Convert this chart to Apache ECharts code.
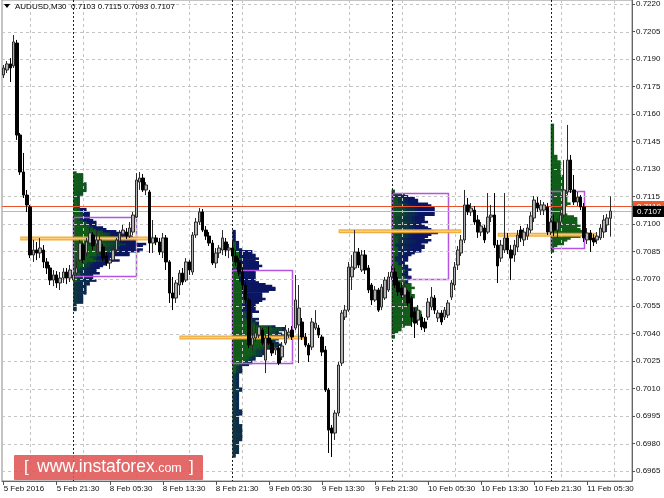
<!DOCTYPE html>
<html><head><meta charset="utf-8">
<script src="https://cdn.jsdelivr.net/npm/echarts@6/dist/echarts.min.js"></script>
<style>html,body{margin:0;padding:0;background:#fff}#c{width:664px;height:498px}</style>
</head><body><div id="c"></div>
<script>
// ---------- data ----------
const symbolName = 'AUDUSD,M30';
const slotCount = 190; // 184 bars + empty right shift
const xTickBars = [0,16,32,48,64,80,96,112,128,144,160,176];
const xTickLabels = ['5 Feb 2016','5 Feb 21:30','8 Feb 05:30','8 Feb 13:30','8 Feb 21:30','9 Feb 05:30','9 Feb 13:30','9 Feb 21:30','10 Feb 05:30','10 Feb 13:30','10 Feb 21:30','11 Feb 05:30'];
const xGridBars = [8,24,40,56,72,88,104,120,136,152,168,184];
const daySeparatorBars = [21,69,117,165];
const yTicks = [0.6965,0.6980,0.6995,0.7010,0.7025,0.7040,0.7055,0.7070,0.7085,0.7100,0.7115,0.7130,0.7145,0.7160,0.7175,0.7190,0.7205,0.7220];
const yMin = 0.69596, yMax = 0.72222;
const askPrice = 0.7110;
// candles: [open, close, low, high]
const candles = [
[0.71813,0.71851,0.71796,0.71867],[0.71840,0.71873,0.71823,0.71889],[0.71873,0.71851,0.71774,0.71905],[0.71862,0.71993,0.71851,0.72031],
[0.71987,0.71485,0.71458,0.72004],[0.71485,0.71283,0.71267,0.71496],[0.71283,0.71157,0.71141,0.71387],[0.71157,0.71103,0.71065,0.71185],
[0.71092,0.70830,0.70813,0.71103],[0.70830,0.70857,0.70792,0.70912],[0.70857,0.70841,0.70802,0.70901],[0.70841,0.70868,0.70813,0.70923],
[0.70857,0.70792,0.70759,0.70884],[0.70792,0.70759,0.70726,0.70813],[0.70759,0.70693,0.70666,0.70775],[0.70693,0.70721,0.70660,0.70748],
[0.70721,0.70677,0.70650,0.70742],[0.70677,0.70704,0.70639,0.70737],[0.70704,0.70737,0.70677,0.70759],[0.70737,0.70704,0.70671,0.70759],
[0.70704,0.70748,0.70682,0.70775],
[0.70693,0.70721,0.70682,0.70737],[0.70731,0.70759,0.70715,0.70802],[0.70802,0.70895,0.70792,0.70912],[0.70884,0.70802,0.70786,0.70895],
[0.70841,0.70901,0.70824,0.70923],[0.70895,0.70950,0.70879,0.70983],[0.70939,0.70879,0.70857,0.70955],[0.70890,0.70912,0.70841,0.70966],
[0.70846,0.70912,0.70830,0.70933],[0.70873,0.70813,0.70797,0.70890],[0.70824,0.70786,0.70770,0.70846],[0.70786,0.70802,0.70753,0.70813],
[0.70802,0.70857,0.70792,0.70868],[0.70857,0.70912,0.70841,0.70923],[0.70906,0.70950,0.70890,0.70966],[0.70944,0.70966,0.70928,0.70994],
[0.70955,0.70933,0.70917,0.70977],[0.70933,0.70977,0.70923,0.71010],[0.70955,0.71048,0.70939,0.71065],[0.71037,0.71239,0.71032,0.71277],
[0.71228,0.71250,0.71185,0.71283],[0.71250,0.71185,0.71174,0.71272],[0.71185,0.71212,0.71157,0.71228],[0.71174,0.70895,0.70841,0.71185],
[0.70895,0.70923,0.70841,0.71021],[0.70923,0.70901,0.70884,0.70939],[0.70901,0.70846,0.70830,0.70923],[0.70846,0.70923,0.70813,0.70950],
[0.70923,0.70792,0.70748,0.70939],[0.70792,0.70622,0.70568,0.70802],[0.70622,0.70595,0.70529,0.70710],[0.70595,0.70677,0.70568,0.70693],
[0.70666,0.70731,0.70611,0.70748],[0.70731,0.70682,0.70666,0.70759],[0.70693,0.70792,0.70682,0.70813],[0.70792,0.70748,0.70721,0.70802],
[0.70737,0.70939,0.70721,0.70955],[0.70939,0.71010,0.70923,0.71032],[0.71010,0.71065,0.70994,0.71086],[0.71065,0.70966,0.70955,0.71081],
[0.70966,0.70933,0.70912,0.70988],[0.70933,0.70895,0.70879,0.70955],[0.70895,0.70786,0.70775,0.70912],[0.70786,0.70841,0.70759,0.70868],
[0.70841,0.70868,0.70813,0.70884],[0.70857,0.70923,0.70830,0.70966],[0.70901,0.70857,0.70824,0.70923],[0.70857,0.70868,0.70813,0.70890],
[0.70868,0.70824,0.70802,0.70901],[0.70824,0.70792,0.70770,0.70857],[0.70792,0.70737,0.70715,0.70813],[0.70737,0.70666,0.70639,0.70759],
[0.70666,0.70584,0.70562,0.70682],[0.70584,0.70338,0.70322,0.70595],[0.70338,0.70377,0.70311,0.70442],[0.70377,0.70404,0.70355,0.70464],
[0.70393,0.70437,0.70377,0.70448],[0.70420,0.70349,0.70338,0.70431],[0.70256,0.70377,0.70185,0.70393],[0.70377,0.70349,0.70338,0.70437],
[0.70349,0.70295,0.70278,0.70366],[0.70311,0.70322,0.70284,0.70355],[0.70322,0.70240,0.70229,0.70338],[0.70273,0.70333,0.70256,0.70355],
[0.70349,0.70420,0.70338,0.70448],[0.70393,0.70409,0.70377,0.70431],[0.70420,0.70382,0.70366,0.70442],[0.70431,0.70584,0.70420,0.70721],
[0.70448,0.70540,0.70240,0.70666],[0.70464,0.70382,0.70366,0.70486],[0.70382,0.70338,0.70327,0.70404],[0.70338,0.70284,0.70246,0.70349],
[0.70327,0.70464,0.70311,0.70486],[0.70431,0.70458,0.70420,0.70529],[0.70431,0.70393,0.70377,0.70448],[0.70382,0.70300,0.70278,0.70393],
[0.70311,0.70093,0.70082,0.70333],[0.70093,0.69874,0.69749,0.70104],[0.69885,0.69858,0.69727,0.69902],[0.69858,0.69967,0.69820,0.69983],
[0.69967,0.70229,0.69951,0.70246],[0.70240,0.70513,0.70224,0.70529],[0.70491,0.70529,0.70475,0.70557],[0.70529,0.70764,0.70519,0.70792],
[0.70710,0.70764,0.70639,0.70830],[0.70759,0.70846,0.70748,0.70966],[0.70846,0.70775,0.70759,0.70868],[0.70748,0.70830,0.70737,0.70857],
[0.70830,0.70748,0.70726,0.70857],[0.70759,0.70639,0.70622,0.70775],[0.70666,0.70584,0.70557,0.70677],[0.70584,0.70639,0.70573,0.70660],
[0.70639,0.70529,0.70519,0.70650],[0.70546,0.70655,0.70529,0.70671],[0.70595,0.70693,0.70584,0.70710],[0.70639,0.70710,0.70628,0.70737],
[0.70710,0.70737,0.70693,0.70770],[0.70737,0.70666,0.70650,0.70759],[0.70682,0.70628,0.70606,0.70710],[0.70650,0.70611,0.70595,0.70677],
[0.70611,0.70655,0.70595,0.70677],[0.70628,0.70568,0.70551,0.70639],[0.70595,0.70491,0.70437,0.70606],[0.70519,0.70458,0.70377,0.70540],
[0.70475,0.70529,0.70448,0.70557],[0.70491,0.70437,0.70420,0.70508],[0.70464,0.70431,0.70409,0.70486],[0.70491,0.70573,0.70475,0.70595],
[0.70546,0.70600,0.70529,0.70655],[0.70595,0.70529,0.70508,0.70611],[0.70486,0.70513,0.70464,0.70529],[0.70513,0.70464,0.70448,0.70529],
[0.70491,0.70529,0.70475,0.70546],[0.70502,0.70568,0.70486,0.70584],[0.70600,0.70677,0.70584,0.70693],[0.70666,0.70764,0.70639,0.70792],
[0.70775,0.70857,0.70748,0.70879],[0.70841,0.70912,0.70824,0.70939],[0.70912,0.71103,0.70895,0.71185],[0.71103,0.71065,0.71048,0.71141],
[0.71065,0.71086,0.71043,0.71114],[0.71075,0.71010,0.70994,0.71097],[0.71021,0.70955,0.70923,0.71048],[0.70955,0.70988,0.70933,0.71010],
[0.70977,0.70912,0.70895,0.70994],[0.70955,0.71037,0.70944,0.71168],[0.71037,0.71048,0.71010,0.71103],[0.71048,0.70884,0.70868,0.71168],
[0.70884,0.70770,0.70677,0.70912],[0.70813,0.70884,0.70792,0.70912],[0.70857,0.70923,0.70841,0.71168],[0.70923,0.70857,0.70835,0.70950],
[0.70857,0.70813,0.70693,0.70884],[0.70830,0.70884,0.70792,0.70912],[0.70873,0.70939,0.70846,0.70966],[0.70966,0.70923,0.70901,0.70988],
[0.70912,0.70955,0.70879,0.70977],[0.70933,0.70977,0.70912,0.70999],[0.70966,0.71043,0.70950,0.71065],[0.71032,0.71130,0.71010,0.71152],
[0.71114,0.71086,0.71065,0.71146],[0.71075,0.71103,0.71048,0.71130],[0.71075,0.71103,0.71048,0.71119],[0.71092,0.70955,0.70939,0.71114],
[0.70955,0.71010,0.70939,0.71032],[0.71010,0.70966,0.70933,0.71048],[0.70966,0.71010,0.70923,0.71032],[0.71010,0.71048,0.70988,0.71075],
[0.71048,0.71185,0.71032,0.71348],[0.71174,0.71348,0.71157,0.71540],[0.71348,0.71185,0.71168,0.71376],[0.71185,0.71119,0.71103,0.71267],
[0.71119,0.71146,0.71097,0.71174],[0.71146,0.71092,0.71075,0.71157],[0.71092,0.70923,0.70901,0.71114],[0.70912,0.70950,0.70890,0.70977],
[0.70950,0.70912,0.70846,0.70966],[0.70923,0.70901,0.70879,0.70944],[0.70912,0.70933,0.70890,0.70955],[0.70923,0.70977,0.70912,0.70999],
[0.70955,0.71021,0.70923,0.71048],[0.70994,0.71032,0.70955,0.71054],[0.7103,0.7107,0.7093,0.7115]
];
// point-of-control lines: [fromBar, toBar, price]
const pocLines = [[5,45,0.7092],[53,91,0.7038],[101,138,0.7096],[149,179,0.7094]];
// value areas: [fromBar, toBar, high, low]
const valueAreas = [[21,40,0.7104,0.7072],[69,87,0.7075,0.7024],[117,134,0.7117,0.7070],[165,175,0.7118,0.7087]];
const priceStep = 0.0001;

// ---------- helpers ----------
const FONT = 'Liberation Sans, Arial, sans-serif';
function tpoColor(t) {
  const s = Math.max(0, Math.min(1, (t - 0.42) / 0.35));
  const g = [16, 92, 24], n = [10, 22, 98];
  const c = g.map((v, i) => Math.round(v + (n[i] - v) * s));
  return 'rgb(' + c.join(',') + ')';
}
// market profile rows built from candle ranges (TPO count per price level)
const profileRows = [];
daySeparatorBars.forEach((start, d) => {
  const end = d + 1 < daySeparatorBars.length ? daySeparatorBars[d + 1] : candles.length;
  let lo = Infinity, hi = -Infinity;
  for (let i = start; i < end; i++) { lo = Math.min(lo, candles[i][2]); hi = Math.max(hi, candles[i][3]); }
  const kLo = Math.ceil(lo / priceStep - 1e-6), kHi = Math.floor(hi / priceStep + 1e-6);
  for (let k = kLo; k <= kHi; k++) {
    const p = k * priceStep;
    const cols = [];
    for (let i = start; i < end; i++) {
      if (candles[i][2] <= p + 1e-9 && candles[i][3] >= p - 1e-9) cols.push(tpoColor((i - start) / 47));
    }
    if (cols.length) profileRows.push({ start, price: p, colors: cols });
  }
});
const last = candles[candles.length - 1];
const bidPrice = last[1];
const titleText = symbolName + '  ' + [last[0], last[3], last[2], last[1]].map(v => v.toFixed(4)).join(' ');

const chart = echarts.init(document.getElementById('c'), null, { renderer: 'canvas' });
const slots = Array.from({ length: slotCount }, (_, i) => i);

function hLine(color, dash) {
  return (params, api) => {
    const cs = params.coordSys;
    const y = Math.round(api.coord([0, api.value(1)])[1]) + 0.5;
    return { type: 'line', shape: { x1: cs.x, y1: y, x2: cs.x + cs.width, y2: y },
      style: { stroke: color, lineWidth: 1, lineDash: dash } };
  };
}
function vLine(bars, color, dash) {
  return (params, api) => {
    const cs = params.coordSys;
    const x = Math.round(api.coord([bars[params.dataIndex], yMin])[0]) + 0.5;
    return { type: 'line', shape: { x1: x, y1: cs.y, x2: x, y2: cs.y + cs.height },
      style: { stroke: color, lineWidth: 1, lineDash: dash } };
  };
}

chart.setOption({
  animation: false,
  backgroundColor: '#fff',
  grid: { left: 2, right: 32, top: 0, bottom: 17, show: true, borderColor: '#8a8a8a', borderWidth: 1, backgroundColor: '#fff' },
  xAxis: {
    type: 'category', data: slots, boundaryGap: true,
    axisLine: { show: true, lineStyle: { color: '#666' } },
    axisTick: { show: true, alignWithLabel: true, length: 4, interval: i => xTickBars.includes(i), lineStyle: { color: '#555' } },
    axisLabel: { interval: i => xTickBars.includes(i), formatter: (v, i) => xTickLabels[xTickBars.indexOf(i)],
      align: 'left', fontSize: 8, color: '#111', margin: 4, fontFamily: FONT },
    splitLine: { show: false }
  },
  yAxis: {
    type: 'value', position: 'right', min: yMin, max: yMax, scale: true,
    axisLine: { show: true, lineStyle: { color: '#666' } },
    axisTick: { show: true, length: 3, customValues: yTicks, lineStyle: { color: '#555' } },
    axisLabel: { customValues: yTicks, formatter: v => v.toFixed(4), color: '#111', fontSize: 8, margin: 4, fontFamily: FONT },
    splitLine: { show: false }
  },
  series: [
    { // market profile histograms
      type: 'custom', z: 1, silent: true,
      data: profileRows.map(r => [r.start, r.price]),
      renderItem: (params, api) => {
        const r = profileRows[params.dataIndex];
        const w = api.size([1, 0])[0];
        const a = api.coord([r.start, r.price + priceStep / 2]);
        const b = api.coord([r.start, r.price - priceStep / 2]);
        const n = r.colors.length;
        const x0 = a[0], x1 = a[0] + n * w;
        const stops = [];
        r.colors.forEach((c, j) => { stops.push({ offset: j / n, color: c }, { offset: (j + 1) / n, color: c }); });
        return { type: 'rect', shape: { x: x0, y: a[1] - 0.35, width: x1 - x0, height: b[1] - a[1] + 0.7 },
          style: { fill: new echarts.graphic.LinearGradient(x0, 0, x1, 0, stops, true) } };
      }
    },
    { // value area boxes
      type: 'custom', z: 2, silent: true,
      data: valueAreas.map(v => [v[0], v[2]]),
      renderItem: (params, api) => {
        const v = valueAreas[params.dataIndex];
        const a = api.coord([v[0], v[2]]), b = api.coord([v[1], v[3]]);
        return { type: 'rect', shape: { x: Math.round(a[0]) + 0.5, y: Math.round(a[1]) + 0.5, width: Math.round(b[0] - a[0]), height: Math.round(b[1] - a[1]) },
          style: { fill: 'none', stroke: '#b255e0', lineWidth: 1.5 } };
      }
    },
    { type: 'custom', z: 3, silent: true, data: yTicks.map(v => [0, v]), renderItem: hLine('#c4c4c4', [3, 3]) },
    { type: 'custom', z: 3, silent: true, data: xGridBars.map(b => [b, yMin]), renderItem: vLine(xGridBars, '#c4c4c4', [3, 3]) },
    { type: 'custom', z: 3, silent: true, data: daySeparatorBars.map(b => [b, yMin]), renderItem: vLine(daySeparatorBars, '#1e1e1e', [2, 2]) },
    { type: 'custom', z: 3, silent: true, data: [[0, bidPrice]], renderItem: hLine('#b8b8b8', null) },
    { type: 'custom', z: 3, silent: true, data: [[0, askPrice]], renderItem: hLine('#e8552c', null) },
    { // POC lines
      type: 'custom', z: 4, silent: true,
      data: pocLines.map(p => [p[0], p[2]]),
      renderItem: (params, api) => {
        const p = pocLines[params.dataIndex];
        const a = api.coord([p[0], p[2]]), b = api.coord([p[1], p[2]]);
        return { type: 'group', children: [
          { type: 'line', shape: { x1: a[0], y1: a[1], x2: b[0], y2: b[1] }, style: { stroke: '#f0a428', lineWidth: 4, opacity: 0.9 } },
          { type: 'line', shape: { x1: a[0] + 1, y1: a[1], x2: b[0] - 1, y2: b[1] }, style: { stroke: '#ffd58a', lineWidth: 1.5, opacity: 0.8 } }
        ] };
      }
    },
    {
      type: 'candlestick', z: 5, silent: true, data: candles, barWidth: 3,
      itemStyle: { color: '#b0b0b0', color0: '#000000', borderColor: '#2a2a2a', borderColor0: '#000000', borderWidth: 1 }
    },
    { // price labels on the axis
      type: 'custom', z: 6, silent: true, clip: false,
      data: [[0, askPrice], [0, bidPrice]],
      renderItem: (params, api) => {
        const cs = params.coordSys;
        const v = api.value(1);
        const y = api.coord([0, v])[1];
        const bg = params.dataIndex === 0 ? '#ef5a2a' : '#000000';
        return { type: 'group', children: [
          { type: 'rect', shape: { x: cs.x + cs.width + 1, y: Math.round(y) - 5, width: 31, height: 11 }, style: { fill: bg } },
          { type: 'text', x: cs.x + cs.width + 5, y: Math.round(y) + 0.5,
            style: { text: v.toFixed(4), fill: '#fff', font: '8px ' + FONT, textVerticalAlign: 'middle' } }
        ] };
      }
    }
  ],
  graphic: [
    { type: 'polygon', shape: { points: [[4, 4], [10, 4], [7, 8]] }, style: { fill: '#000' }, z: 100 },
    { type: 'text', x: 15, y: 6.5, style: { text: titleText, fill: '#000', font: '8px ' + FONT, textVerticalAlign: 'middle' }, z: 100 },
    { type: 'rect', shape: { x: 14, y: 455, width: 189, height: 25, r: 1 }, style: { fill: 'rgba(224,84,84,0.88)' }, z: 100 },
    { type: 'text', x: 24, y: 467.5, style: { text: '[', fill: '#fff', font: '17px ' + FONT, textVerticalAlign: 'middle' }, z: 101 },
    { type: 'text', x: 37, y: 467.5, style: {
        text: '{w|www.instaforex}{c|.com}', textVerticalAlign: 'middle',
        rich: { w: { fill: '#fff', font: '17.5px ' + FONT }, c: { fill: '#fff', font: '12.5px ' + FONT, padding: [3, 0, 0, 0] } } }, z: 101 },
    { type: 'text', x: 189, y: 467.5, style: { text: ']', fill: '#fff', font: '17px ' + FONT, textVerticalAlign: 'middle' }, z: 101 }
  ]
});
</script>
</body></html>
